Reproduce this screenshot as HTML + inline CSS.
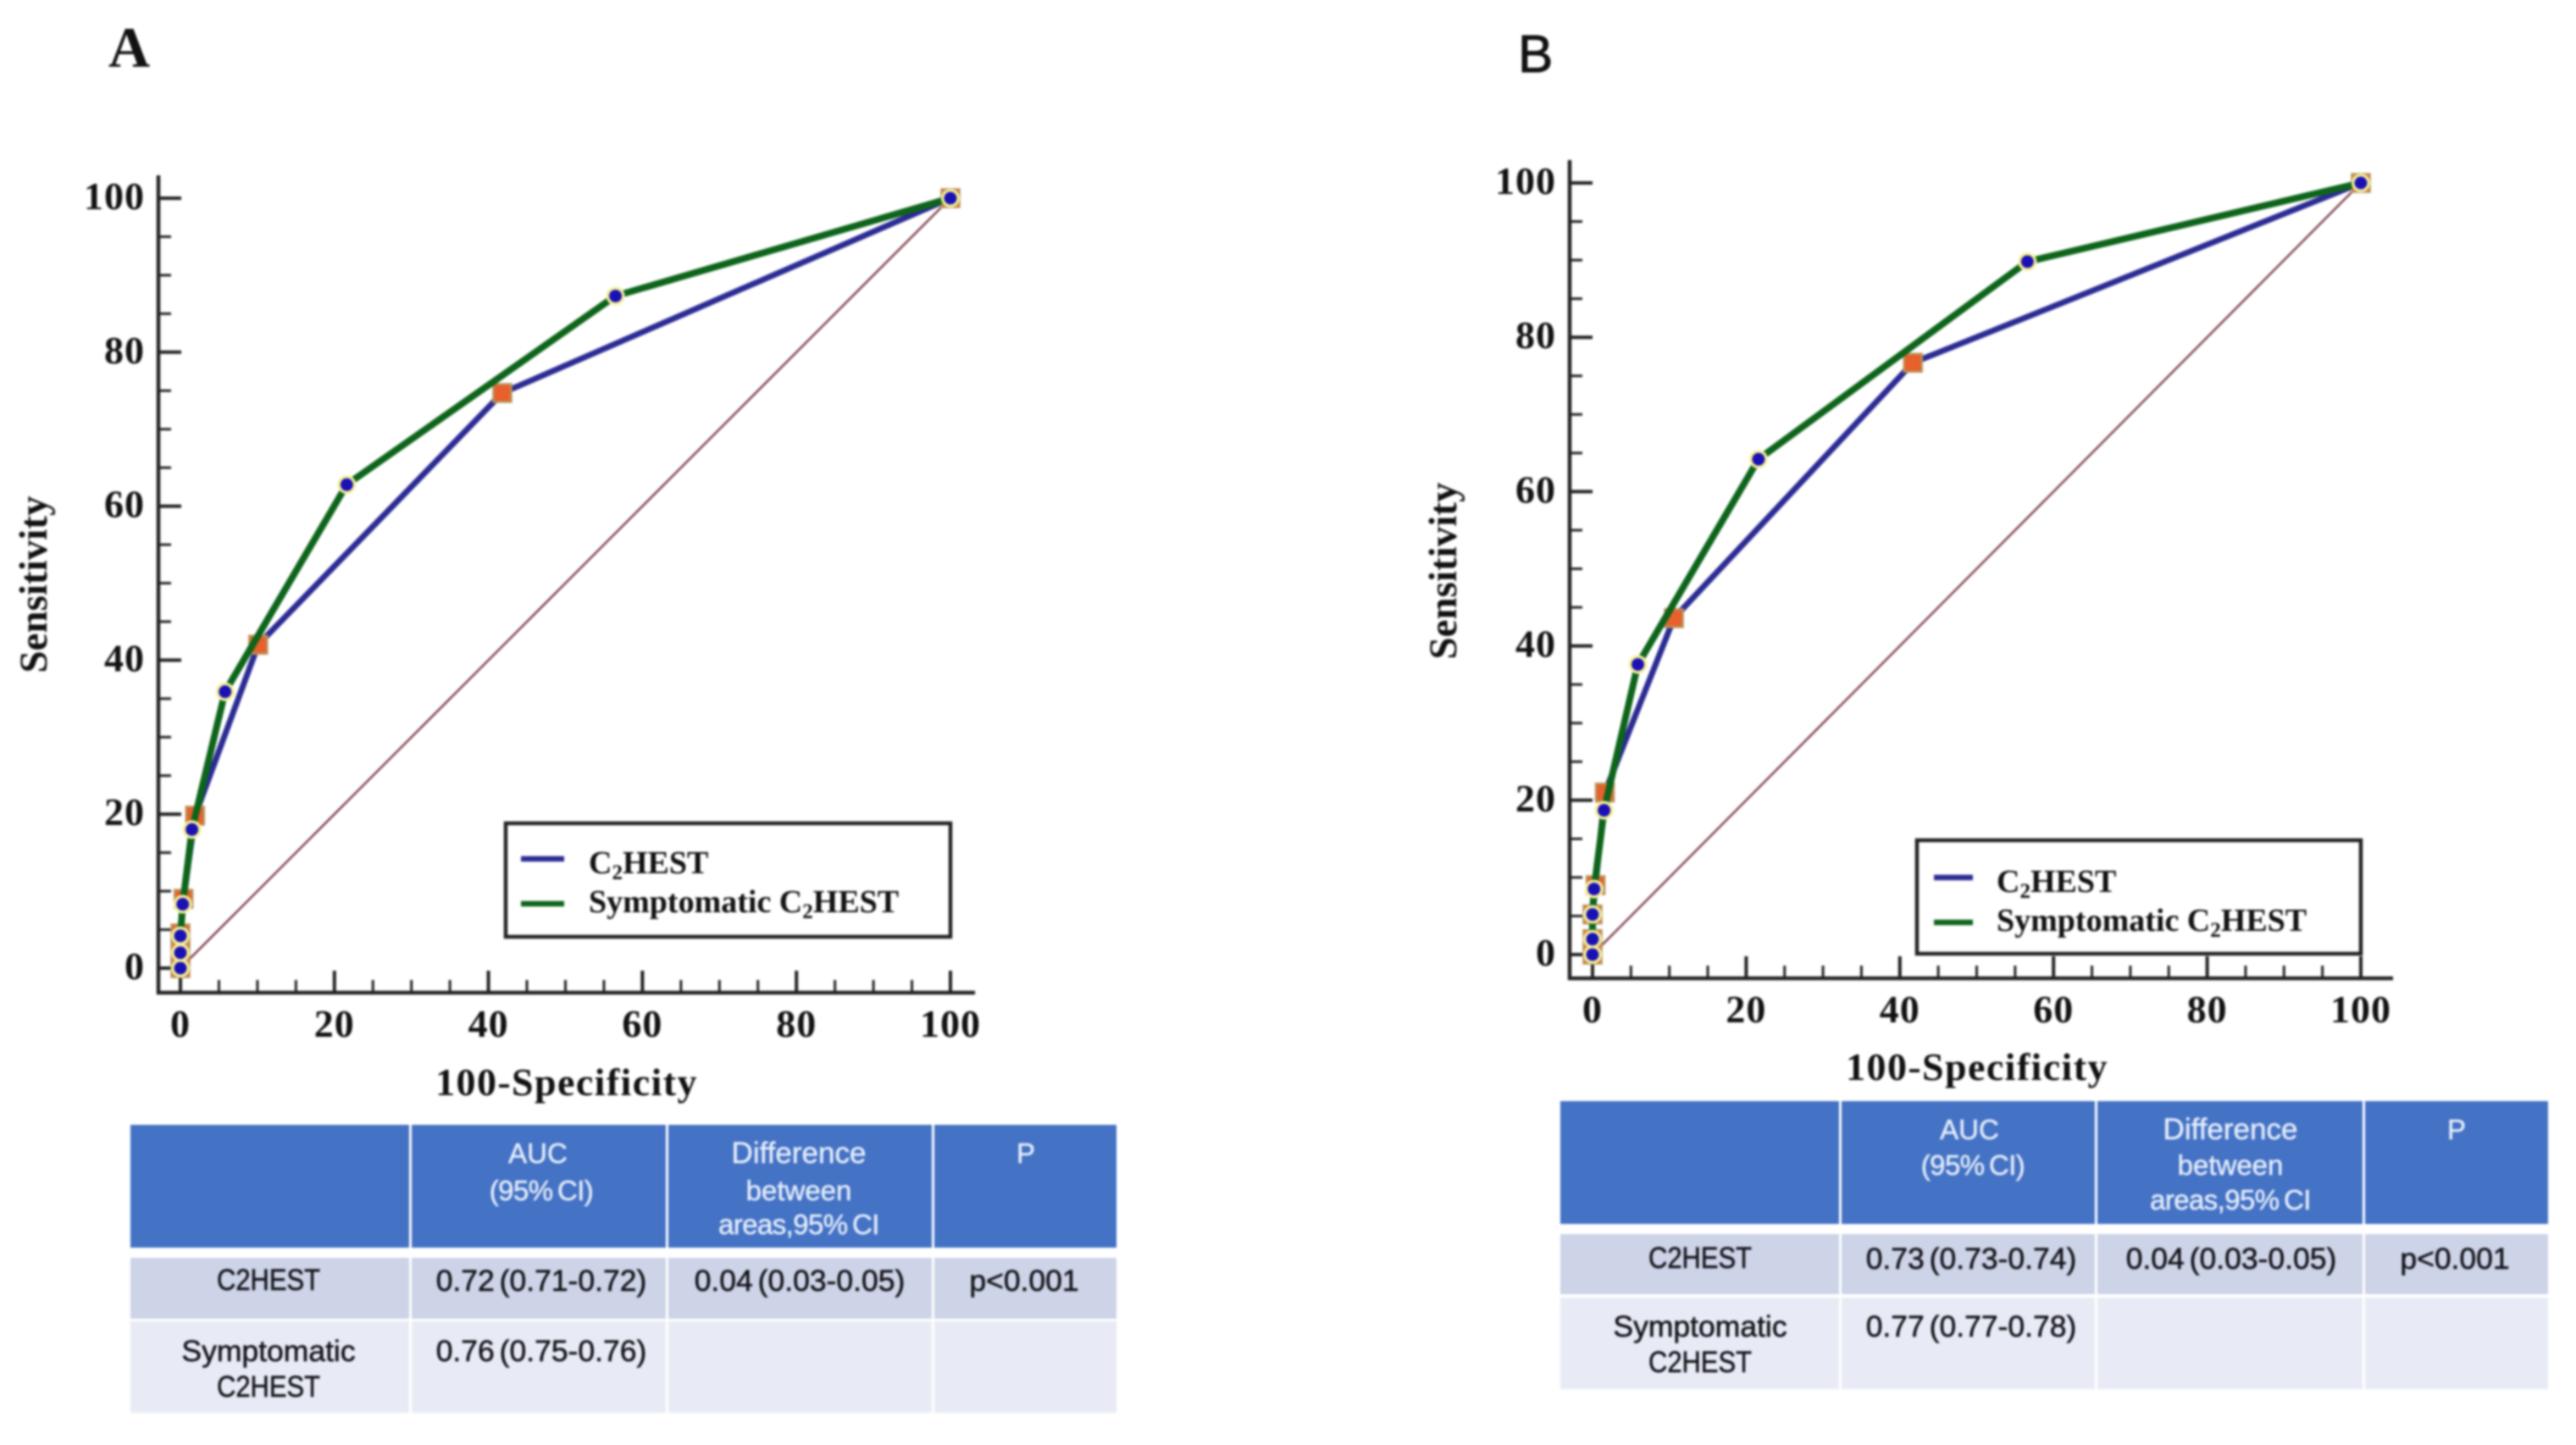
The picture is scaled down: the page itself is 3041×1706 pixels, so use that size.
<!DOCTYPE html>
<html lang="en">
<head>
<meta charset="utf-8">
<title>ROC curves for C2HEST and Symptomatic C2HEST</title>
<style>
html,body{margin:0;padding:0;background:#fff;width:3041px;height:1706px;overflow:hidden}
svg{display:block;filter:blur(1.2px)}
.serif{font-family:"Liberation Serif",serif;font-weight:700;fill:#111}
.sans{font-family:"Liberation Sans",sans-serif;font-size:33px;text-anchor:middle}
.hd{fill:#e6eefb;stroke:#e6eefb;stroke-width:.5px}
.bd{fill:#14141a;stroke:#14141a;stroke-width:.6px;font-size:35.5px;word-spacing:-4px}
.wide{font-size:35px}
.tight{letter-spacing:-.6px;word-spacing:-3px}
</style>
</head>
<body>
<svg id="root" xmlns="http://www.w3.org/2000/svg" width="3041" height="1706" viewBox="0 0 3041 1706">
  <rect width="3041" height="1706" fill="#fff"/>

  <text class="serif" x="128" y="79" font-size="68">A</text>
  <text x="1792" y="85" font-size="62" font-family="'Liberation Sans',sans-serif" fill="#111" stroke="#111" stroke-width="1">B</text>

  <g id="chart-a"></g>
  <g id="chart-b"></g>

  <g>
    <rect x="154" y="1328" width="329" height="145" fill="#4472c4"/>
    <rect x="486" y="1328" width="300" height="145" fill="#4472c4"/>
    <rect x="789" y="1328" width="311" height="145" fill="#4472c4"/>
    <rect x="1103" y="1328" width="215" height="145" fill="#4472c4"/>
    <rect x="154" y="1485" width="329" height="72" fill="#cdd4e8"/>
    <rect x="486" y="1485" width="300" height="72" fill="#cdd4e8"/>
    <rect x="789" y="1485" width="311" height="72" fill="#cdd4e8"/>
    <rect x="1103" y="1485" width="215" height="72" fill="#cdd4e8"/>
    <rect x="154" y="1560" width="329" height="108" fill="#e8ebf5"/>
    <rect x="486" y="1560" width="300" height="108" fill="#e8ebf5"/>
    <rect x="789" y="1560" width="311" height="108" fill="#e8ebf5"/>
    <rect x="1103" y="1560" width="215" height="108" fill="#e8ebf5"/>
    <text class="sans hd"><tspan x="635" y="1373">AUC</tspan><tspan class="tight" x="639" y="1417">(95% CI)</tspan></text>
    <text class="sans hd"><tspan class="wide" x="943" y="1373">Difference</tspan><tspan x="943" y="1417">between</tspan><tspan class="tight" x="943" y="1457">areas,95% CI</tspan></text>
    <text class="sans hd" x="1211" y="1373">P</text>
    <text class="sans bd" x="317" y="1523" textLength="122" lengthAdjust="spacingAndGlyphs">C2HEST</text>
    <text class="sans bd" x="639" y="1524">0.72 (0.71-0.72)</text>
    <text class="sans bd" x="944" y="1524">0.04 (0.03-0.05)</text>
    <text class="sans bd" x="1209" y="1524">p&lt;0.001</text>
    <text class="sans bd" x="317" y="1607">Symptomatic</text>
    <text class="sans bd" x="317" y="1649" textLength="122" lengthAdjust="spacingAndGlyphs">C2HEST</text>
    <text class="sans bd" x="639" y="1607">0.76 (0.75-0.76)</text>
  </g>

  <g>
    <rect x="1842" y="1300" width="329" height="145" fill="#4472c4"/>
    <rect x="2174" y="1300" width="299" height="145" fill="#4472c4"/>
    <rect x="2476" y="1300" width="313" height="145" fill="#4472c4"/>
    <rect x="2792" y="1300" width="216" height="145" fill="#4472c4"/>
    <rect x="1842" y="1457" width="329" height="71" fill="#cdd4e8"/>
    <rect x="2174" y="1457" width="299" height="71" fill="#cdd4e8"/>
    <rect x="2476" y="1457" width="313" height="71" fill="#cdd4e8"/>
    <rect x="2792" y="1457" width="216" height="71" fill="#cdd4e8"/>
    <rect x="1842" y="1532" width="329" height="108" fill="#e8ebf5"/>
    <rect x="2174" y="1532" width="299" height="108" fill="#e8ebf5"/>
    <rect x="2476" y="1532" width="313" height="108" fill="#e8ebf5"/>
    <rect x="2792" y="1532" width="216" height="108" fill="#e8ebf5"/>
    <text class="sans hd"><tspan x="2325" y="1345">AUC</tspan><tspan class="tight" x="2329" y="1387">(95% CI)</tspan></text>
    <text class="sans hd"><tspan class="wide" x="2633" y="1345">Difference</tspan><tspan x="2633" y="1387">between</tspan><tspan class="tight" x="2633" y="1428">areas,95% CI</tspan></text>
    <text class="sans hd" x="2900" y="1345">P</text>
    <text class="sans bd" x="2007" y="1497" textLength="122" lengthAdjust="spacingAndGlyphs">C2HEST</text>
    <text class="sans bd" x="2327" y="1498">0.73 (0.73-0.74)</text>
    <text class="sans bd" x="2634" y="1498">0.04 (0.03-0.05)</text>
    <text class="sans bd" x="2898" y="1498">p&lt;0.001</text>
    <text class="sans bd" x="2007" y="1578">Symptomatic</text>
    <text class="sans bd" x="2007" y="1620" textLength="122" lengthAdjust="spacingAndGlyphs">C2HEST</text>
    <text class="sans bd" x="2327" y="1578">0.77 (0.77-0.78)</text>
  </g>
</svg>

<script>
const tickLabels = [0, 20, 40, 60, 80, 100];
const minorTicks = [5, 10, 15, 25, 30, 35, 45, 50, 55, 65, 70, 75, 85, 90, 95];
const referenceX = [0, 100];
const referenceY = [0, 100];

const aBaseFpr = [0, 0, 0, 0.4, 1.9, 10.1, 41.8, 100];
const aBaseSens = [0, 2, 4.5, 9, 19.8, 42, 74.7, 100];
const aSympFpr = [0, 0, 0, 0.3, 1.5, 5.8, 21.6, 56.5, 100];
const aSympSens = [0, 2, 4.2, 8.3, 18, 35.9, 62.8, 87.3, 100];

const bBaseFpr = [0, 0, 0, 0.4, 1.6, 10.6, 41.7, 100];
const bBaseSens = [0, 2, 5.2, 9, 21, 43.6, 76.7, 100];
const bSympFpr = [0, 0, 0, 0.2, 1.5, 5.9, 21.6, 56.6, 100];
const bSympSens = [0, 2, 5.2, 8.5, 18.7, 37.6, 64.2, 89.8, 100];

const NS = 'http://www.w3.org/2000/svg';

function make(parent, tag, attrs, text) {
  const el = document.createElementNS(NS, tag);
  for (const k in attrs) el.setAttribute(k, attrs[k]);
  if (text !== undefined) el.textContent = text;
  parent.appendChild(el);
  return el;
}

function drawChart(parent, cfg) {
  const sx = v => cfg.x0 + (cfg.x100 - cfg.x0) * v / 100;
  const sy = v => cfg.y0 + (cfg.y100 - cfg.y0) * v / 100;
  const pts = (xs, ys) => xs.map((v, i) => sx(v) + ',' + sy(ys[i])).join(' ');

  const axisY = make(parent, 'line', {x1: cfg.left, x2: cfg.left, y1: cfg.top, y2: cfg.bottom + 2, stroke: '#222', 'stroke-width': 4.5});
  
  
  const axisX = make(parent, 'line', {x1: cfg.left - 2, x2: cfg.right, y1: cfg.bottom, y2: cfg.bottom, stroke: '#222', 'stroke-width': 4.5});
  
  

  tickLabels.forEach(v => {
    const tx = make(parent, 'line', {x1: sx(v), x2: sx(v), y1: cfg.bottom, y2: cfg.bottom - 26, stroke: '#222', 'stroke-width': 4});
    
    
    const ty = make(parent, 'line', {x1: cfg.left, x2: cfg.left + 27, y1: sy(v), y2: sy(v), stroke: '#222', 'stroke-width': 4});
    
    
    const lx = make(parent, 'text', {class: 'serif', x: sx(v), y: cfg.bottom + cfg.xLabelGap, 'font-size': 46, 'letter-spacing': 1, 'text-anchor': 'middle'}, v);
    
    
    const ly = make(parent, 'text', {class: 'serif', x: cfg.left - 16, y: sy(v) + 13, 'font-size': 46, 'letter-spacing': 1, 'text-anchor': 'end'}, v);
    
    
  });
  minorTicks.forEach(v => {
    const tx = make(parent, 'line', {x1: sx(v), x2: sx(v), y1: cfg.bottom, y2: cfg.bottom - 15, stroke: '#222', 'stroke-width': 3});
    
    
    const ty = make(parent, 'line', {x1: cfg.left, x2: cfg.left + 15, y1: sy(v), y2: sy(v), stroke: '#222', 'stroke-width': 3});
    
    
  });

  const xTitle = make(parent, 'text', {class: 'serif', x: cfg.xTitleX, y: cfg.xTitleY, 'font-size': 46, 'letter-spacing': 1.4, 'text-anchor': 'middle'}, '100-Specificity');
  
  
  const yTitle = make(parent, 'text', {class: 'serif', 'font-size': 47, 'text-anchor': 'middle', transform: 'translate(' + cfg.yTitleX + ' ' + cfg.yTitleY + ') rotate(-90)'}, 'Sensitivity');
  
  

  const ref = make(parent, 'polyline', {points: pts(referenceX, referenceY), fill: 'none', stroke: '#7c3c4a', 'stroke-width': 2.4});
  
  

  const blue = make(parent, 'polyline', {points: pts(cfg.baseX, cfg.baseY), fill: 'none', stroke: '#2b2b94', 'stroke-width': 7, 'stroke-linejoin': 'round'});
  
  

  cfg.baseX.forEach((v, i) => {
    const s = make(parent, 'rect', {x: sx(v) - 10.5, y: sy(cfg.baseY[i]) - 10.5, width: 21, height: 21, fill: '#e8602c', stroke: '#b8935a', 'stroke-width': 2.5});
    
    
  });

  const green = make(parent, 'polyline', {points: pts(cfg.sympX, cfg.sympY), fill: 'none', stroke: '#0d641a', 'stroke-width': 8, 'stroke-linejoin': 'round'});
  
  

  cfg.sympX.forEach((v, i) => {
    const ring = make(parent, 'circle', {cx: sx(v), cy: sy(cfg.sympY[i]), r: 11, fill: '#f6f09a'});
    
    
    const dot = make(parent, 'circle', {cx: sx(v), cy: sy(cfg.sympY[i]), r: 7.5, fill: '#1a10b4'});
    
    
  });

  const l = cfg.legend;
  const legend = make(parent, 'g', {});
  
  
  const box = make(legend, 'rect', {x: l.x, y: l.y, width: l.w, height: l.h, fill: '#fff', stroke: '#222', 'stroke-width': 4.5});
  
  
  const swatch1 = make(legend, 'line', {x1: l.sx1, x2: l.sx2, y1: l.sy1, y2: l.sy1, stroke: '#2b2b94', 'stroke-width': 6.5});
  
  
  const swatch2 = make(legend, 'line', {x1: l.sx1, x2: l.sx2, y1: l.sy2, y2: l.sy2, stroke: '#0d641a', 'stroke-width': 6.5});
  
  

  const t1 = make(legend, 'text', {class: 'serif', x: l.tx, y: l.ty1, 'font-size': 38});
  
  
  make(t1, 'tspan', {}, 'C');
  make(t1, 'tspan', {dy: 7, 'font-size': 25}, '2');
  make(t1, 'tspan', {dy: -7}, 'HEST');

  const t2 = make(legend, 'text', {class: 'serif', x: l.tx, y: l.ty2, 'font-size': 38});
  
  
  make(t2, 'tspan', {}, 'Symptomatic C');
  make(t2, 'tspan', {dy: 7, 'font-size': 25}, '2');
  make(t2, 'tspan', {dy: -7}, 'HEST');
}

drawChart(document.getElementById('chart-a'), {
  x0: 213, x100: 1122, y0: 1143, y100: 234,
  left: 187, right: 1151, top: 207, bottom: 1172,
  xLabelGap: 52, xTitleX: 669, xTitleY: 1293, yTitleX: 55, yTitleY: 690,
  baseX: aBaseFpr, baseY: aBaseSens, sympX: aSympFpr, sympY: aSympSens,
  legend: {x: 597, y: 972, w: 525, h: 134, sx1: 615, sx2: 666, sy1: 1014, sy2: 1067, tx: 695, ty1: 1031, ty2: 1077}
});

drawChart(document.getElementById('chart-b'), {
  x0: 1880, x100: 2787, y0: 1127, y100: 216,
  left: 1853, right: 2825, top: 189, bottom: 1155,
  xLabelGap: 52, xTitleX: 2334, xTitleY: 1275, yTitleX: 1719, yTitleY: 674,
  baseX: bBaseFpr, baseY: bBaseSens, sympX: bSympFpr, sympY: bSympSens,
  legend: {x: 2263, y: 992, w: 524, h: 134, sx1: 2283, sx2: 2329, sy1: 1036, sy2: 1089, tx: 2357, ty1: 1053, ty2: 1099}
});
</script>
</body>
</html>
